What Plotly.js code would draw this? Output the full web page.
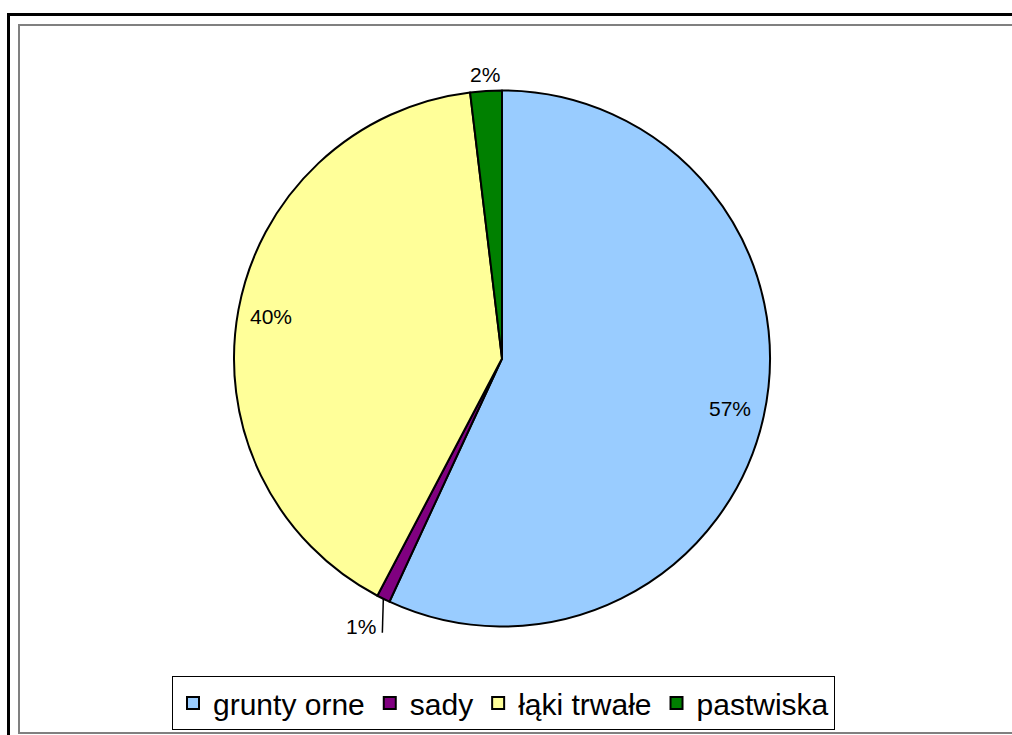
<!DOCTYPE html>
<html>
<head>
<meta charset="utf-8">
<script src="https://cdn.plot.ly/plotly-3.0.1.min.js"></script>
<style>
  html, body { margin: 0; padding: 0; background: #ffffff; overflow: hidden; }
  #outer { position: absolute; left: 7px; top: 13px; width: 1100px; height: 800px; border-left: 3px solid #000; border-top: 3px solid #000; box-sizing: border-box; }
  #inner { position: absolute; left: 18px; top: 24px; width: 1100px; height: 710px; border: 2px solid #808080; box-sizing: border-box; }
  #chart { position: absolute; left: 0; top: 0; width: 1012px; height: 735px; }
</style>
</head>
<body>
<div id="outer"></div>
<div id="inner"></div>
<div id="chart"></div>
<script>
const categories = ["grunty orne", "sady", "łąki trwałe", "pastwiska"];
const shares = [56.9, 0.8, 40.4, 1.9];
const sliceColors = ["#99CCFF", "#800080", "#FFFF99", "#008000"];

const W = 1012, H = 735;
const FONT = "Liberation Sans, Arial, sans-serif";

// pie geometry (pixel) -> domain
const pieLeft = 234, pieRight = 770, pieTop = 90, pieBottom = 627;
const domX = [pieLeft / W, pieRight / W];
const domY = [1 - pieBottom / H, 1 - pieTop / H];
const cxPx = (pieLeft + pieRight) / 2, cyPx = (pieTop + pieBottom) / 2;
const rPx = Math.min(pieRight - pieLeft, pieBottom - pieTop) / 2;

// label placement style per slice: radius factor of label centre
const labelRadius = [0.87, null, 0.875, 1.06];

const total = shares.reduce((a, b) => a + b, 0);
const annotations = [];
const shapes = [];
let cum = 0;
shares.forEach((v, i) => {
  const mid = (cum + v / 2) / total * 2 * Math.PI;
  cum += v;
  const dx = Math.sin(mid), dy = Math.cos(mid); // dy: up positive
  const pct = Math.round(v / total * 100) + "%";
  if (labelRadius[i] !== null) {
    const px = cxPx + dx * rPx * labelRadius[i];
    const py = cyPx - dy * rPx * labelRadius[i];
    annotations.push({
      xref: "paper", yref: "paper", x: px / W, y: 1 - py / H,
      text: pct, showarrow: false, xanchor: "center", yanchor: "middle",
      font: { family: FONT, size: 21, color: "#000000" }
    });
  } else {
    // small slice: leader line from slice edge straight down, text at its left
    const ex = cxPx + dx * rPx, ey = cyPx - dy * rPx;
    const leaderLen = 34;
    shapes.push({
      type: "line", xref: "paper", yref: "paper",
      x0: ex / W, y0: 1 - ey / H, x1: (ex - 1) / W, y1: 1 - (ey + leaderLen) / H,
      line: { color: "#000000", width: 1.5 }
    });
    annotations.push({
      xref: "paper", yref: "paper", x: (ex - 5) / W, y: 1 - (ey + leaderLen - 6) / H,
      text: pct, showarrow: false, xanchor: "right", yanchor: "middle",
      font: { family: FONT, size: 21, color: "#000000" }
    });
  }
});

const trace = {
  type: "pie",
  labels: categories,
  values: shares,
  sort: false,
  direction: "clockwise",
  rotation: 0,
  marker: { colors: sliceColors, line: { color: "#000000", width: 2 } },
  textposition: "none",
  domain: { x: domX, y: domY },
  hoverinfo: "label+percent"
};

const layout = {
  width: W,
  height: H,
  margin: { l: 0, r: 0, t: 0, b: 0 },
  paper_bgcolor: "rgba(0,0,0,0)",
  plot_bgcolor: "rgba(0,0,0,0)",
  font: { family: FONT, color: "#000000" },
  showlegend: true,
  annotations: annotations,
  shapes: shapes,
  legend: {
    orientation: "h",
    x: 503.5 / W,
    xanchor: "center",
    y: (H - 730) / H,
    yanchor: "bottom",
    bordercolor: "#000000",
    borderwidth: 1,
    bgcolor: "#ffffff",
    font: { size: 30, family: FONT, color: "#000000" },
    traceorder: "normal"
  }
};

Plotly.newPlot("chart", [trace], layout, { displayModeBar: false, staticPlot: true });
</script>
</body>
</html>
